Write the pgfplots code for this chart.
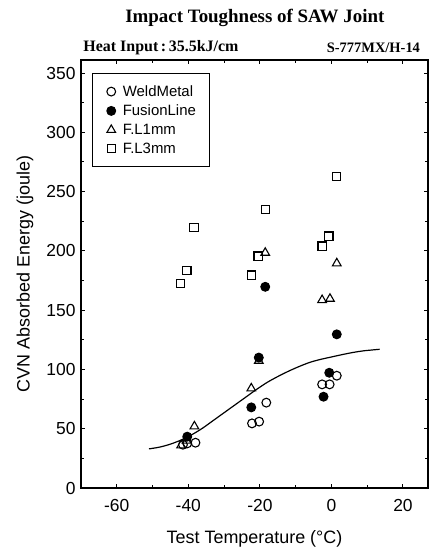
\documentclass[border=0pt]{standalone}
\usepackage{fontspec}
\setmainfont{Liberation Sans}
\newfontfamily\titlefont{Liberation Serif}
\usepackage{pgfplots}
\pgfplotsset{compat=1.18}

\begin{document}
\begin{tikzpicture}[x=1bp,y=1bp]
\begin{axis}[
  scale only axis, width=347bp, height=428bp,
  xmin=-70, xmax=27, ymin=0, ymax=361,
  xtick={-60,-40,-20,0,20}, xticklabels={-60,-40,-20,0,20},
  ytick={0,50,...,350}, yticklabels={0,50,100,150,200,250,300,350},
  minor xtick={-50,-30,-10,10},
  minor ytick={25,75,...,325},
  tick align=inside, major tick length=4bp, minor tick length=3bp,
  tick style={black, line width=1pt},
  axis line style={line width=1.3pt},
  tick label style={font=\fontsize{17.5}{17.5}\selectfont},
  xticklabel style={yshift=-8bp},
  yticklabel style={xshift=-2bp},
  label style={font=\fontsize{18}{18}\selectfont},
  xlabel={Test Temperature (\textdegree C)},
  ylabel={CVN Absorbed Energy (joule)},
  xlabel style={at={(rel axis cs:0.5,0)}, anchor=center, yshift=-51bp},
  ylabel style={at={(rel axis cs:0,0.5)}, anchor=center, yshift=56bp},
  legend style={at={(0.032,0.970)}, anchor=north west, draw=black, line width=1.2pt,
    font=\fontsize{15}{15}\selectfont, row sep=3bp, inner xsep=12bp, inner ysep=10bp,
    cells={anchor=west}},
  legmark/.style={legend image code/.code={\path (0bp,0bp) (15bp,0bp); \draw[##1] plot coordinates {(6bp,0bp)};}},
  clip=false,
]
\addplot[only marks, mark=o, mark size=4.4bp, line width=1.1pt, legmark] coordinates {
  (-18.2,72) (-22.2,54.5) (-20.2,56) (-2.6,87.4) (-0.5,87.4) (1.5,94.7)
  (-38,38.2) (-40.3,37.6) (-41.5,36.5)};
\addlegendentry{WeldMetal}
\addplot[only marks, mark=*, mark size=4.4bp, line width=1.1pt, legmark] coordinates {
  (-18.5,169.7) (-20.3,110) (-22.4,68) (1.5,129.6) (-0.6,97.2) (-2.2,77) (-40.3,43.3)};
\addlegendentry{FusionLine}
\addplot[only marks, mark=triangle, mark size=5bp, line width=1.1pt, legmark] coordinates {
  (-42,36) (-40.5,40) (-38.3,52) (-22.4,84) (-20.3,107.3) (-18.5,198.4)
  (-2.6,158.5) (-0.4,159.6) (1.5,189.5)};
\addlegendentry{F.L1mm}
\addplot[only marks, mark=square, mark size=4.1bp, line width=1.1pt, legmark] coordinates {
  (-42.2,172.6) (-40.4,183.3) (-38.4,219.5) (-22.4,179.6) (-20.5,195.6) (-18.5,235)
  (-2.6,204) (-0.7,212.5) (1.4,262.5)};
\addlegendentry{F.L3mm}
\addplot[smooth, tension=0.5, line width=1.2pt, forget plot] coordinates {
  (-51,33) (-48,34.5) (-45,37) (-42,40.5) (-39,45) (-36,50.5) (-33,57) (-30,63.5)
  (-27,70) (-24,76.5) (-21,83) (-18,89) (-15,94) (-12,98.5) (-9,102.5) (-6,106)
  (-3,108.5) (0,110.5) (3,112.5) (6,114.3) (9,115.7) (13.5,117)};
\node[font=\titlefont\bfseries\fontsize{19}{19}\selectfont] at (rel axis cs:0.501,1) [yshift=42bp] {Impact Toughness of SAW Joint};
\node[font=\titlefont\bfseries\fontsize{16}{16}\selectfont, anchor=west] at (rel axis cs:-0.003,1) [yshift=12bp] {Heat Input\,:\,35.5kJ/cm};
\node[font=\titlefont\bfseries\fontsize{14.5}{14.5}\selectfont, anchor=east] at (rel axis cs:0.987,1) [yshift=12bp] {S-777MX/H-14};
\end{axis}
\pgfresetboundingbox
\path[use as bounding box] (-81bp,-61bp) rectangle (348bp,488bp);
\end{tikzpicture}
\end{document}
